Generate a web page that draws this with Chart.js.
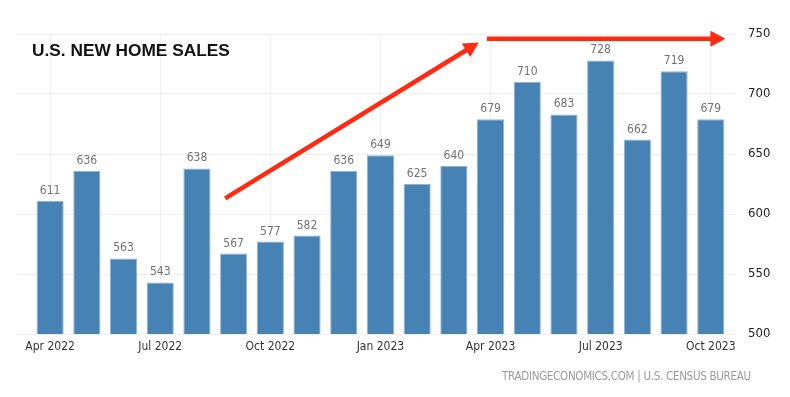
<!DOCTYPE html>
<html>
<head>
<meta charset="utf-8">
<script src="https://cdn.jsdelivr.net/npm/chart.js@4"></script>
<style>
  html, body { margin: 0; padding: 0; background: #fff; }
  #wrap { width: 790px; height: 397px; position: relative; }
</style>
</head>
<body>
<div id="wrap"><canvas id="c" width="790" height="397"></canvas></div>
<script>
const months = ['Apr 2022','May 2022','Jun 2022','Jul 2022','Aug 2022','Sep 2022','Oct 2022','Nov 2022','Dec 2022',
                'Jan 2023','Feb 2023','Mar 2023','Apr 2023','May 2023','Jun 2023','Jul 2023','Aug 2023','Sep 2023','Oct 2023'];
const sales = [611,636,563,543,638,567,577,582,636,649,625,640,679,710,683,728,662,719,679];
const xTickLabels = ['Apr 2022','Jul 2022','Oct 2022','Jan 2023','Apr 2023','Jul 2023','Oct 2023'];
const yTickValues = [500,550,600,650,700,750];
const titleText = 'U.S. NEW HOME SALES';
const sourceText = 'TRADINGECONOMICS.COM | U.S. CENSUS BUREAU';
// annotation arrows in data coordinates: [x index, value]
const arrowUp = [[4.77, 613], [11.68, 743]];
const arrowFlat = [[11.9, 746], [18.4, 746]];

const barColor = '#4682b4';
const barEdge = '#8fb4d6';
const gridColor = '#efefef';
const arrowColor = '#ff2a10';
const tickFont = "'DejaVu Sans Condensed', 'DejaVu Sans', sans-serif";

function drawArrow(ctx, x1, y1, x2, y2, head, halfW) {
  const ang = Math.atan2(y2 - y1, x2 - x1);
  const bx = x2 - Math.cos(ang) * head, by = y2 - Math.sin(ang) * head;
  ctx.beginPath();
  ctx.moveTo(x1, y1);
  ctx.lineTo(bx + Math.cos(ang) * 1, by + Math.sin(ang) * 1);
  ctx.stroke();
  ctx.beginPath();
  ctx.moveTo(x2, y2);
  ctx.lineTo(bx + Math.cos(ang + Math.PI / 2) * halfW, by + Math.sin(ang + Math.PI / 2) * halfW);
  ctx.lineTo(bx - Math.cos(ang + Math.PI / 2) * halfW, by - Math.sin(ang + Math.PI / 2) * halfW);
  ctx.closePath();
  ctx.fill();
}

const overlay = {
  id: 'overlay',
  afterDatasetsDraw(chart) {
    const ctx = chart.ctx;
    const xs = chart.scales.x, ys = chart.scales.y;
    ctx.save();
    ctx.font = "12px " + tickFont;
    ctx.fillStyle = '#737373';
    ctx.textAlign = 'center';
    ctx.textBaseline = 'alphabetic';
    const meta = chart.getDatasetMeta(0);
    meta.data.forEach((bar, i) => {
      ctx.fillText(String(sales[i]), bar.x, bar.y - 7);
    });
    ctx.restore();

    ctx.save();
    ctx.font = "bold 17.3px 'Liberation Sans', Arial, sans-serif";
    ctx.fillStyle = '#111';
    ctx.textBaseline = 'middle';
    ctx.textAlign = 'left';
    ctx.fillText(titleText, 32, 51);
    ctx.restore();

    ctx.save();
    ctx.font = "11.5px " + tickFont;
    ctx.fillStyle = '#9a9a9a';
    ctx.textBaseline = 'middle';
    ctx.textAlign = 'left';
    const target = 249;
    const w0 = ctx.measureText(sourceText).width;
    const sp = (target - w0) / (sourceText.length - 1);
    ctx.letterSpacing = sp.toFixed(2) + 'px';
    ctx.fillText(sourceText, 751 - target, 377);
    ctx.restore();

    ctx.save();
    ctx.strokeStyle = arrowColor;
    ctx.fillStyle = arrowColor;
    ctx.lineWidth = 4.5;
    [arrowUp, arrowFlat].forEach(a => {
      drawArrow(ctx,
        xs.getPixelForValue(a[0][0]), ys.getPixelForValue(a[0][1]),
        xs.getPixelForValue(a[1][0]), ys.getPixelForValue(a[1][1]), 15, 8);
    });
    ctx.restore();
  }
};

new Chart(document.getElementById('c'), {
  type: 'bar',
  data: {
    datasets: [{
      data: sales.map((v, i) => ({ x: i, y: v })),
      backgroundColor: barColor,
      borderColor: barEdge,
      borderWidth: { top: 1, left: 1, right: 1, bottom: 0 },
      barPercentage: 0.74,
      categoryPercentage: 1.0
    }]
  },
  options: {
    responsive: false,
    animation: false,
    devicePixelRatio: 1,
    layout: { padding: { left: 16, top: 34, right: 0, bottom: 0 } },
    plugins: { legend: { display: false }, tooltip: { enabled: false }, title: { display: false } },
    scales: {
      x: {
        type: 'linear',
        offset: false,
        min: -0.93,
        max: 18.66,
        afterBuildTicks(scale) {
          scale.ticks = xTickLabels.map(l => ({ value: months.indexOf(l) }));
        },
        afterFit(scale) { scale.height = 63; },
        ticks: {
          callback: (v) => months[v],
          color: '#333',
          font: { family: tickFont, size: 12 },
          padding: 6,
          maxRotation: 0,
          autoSkip: false
        },
        grid: { color: gridColor, drawTicks: false, offset: false },
        border: { display: false }
      },
      y: {
        position: 'right',
        min: 500,
        max: 750,
        afterBuildTicks(scale) {
          scale.ticks = yTickValues.map(v => ({ value: v }));
        },
        afterFit(scale) { scale.width = 55; },
        ticks: {
          color: '#222',
          font: { family: tickFont, size: 13 },
          padding: 13
        },
        grid: { color: gridColor, drawTicks: false },
        border: { display: false }
      }
    }
  },
  plugins: [overlay]
});
</script>
</body>
</html>
